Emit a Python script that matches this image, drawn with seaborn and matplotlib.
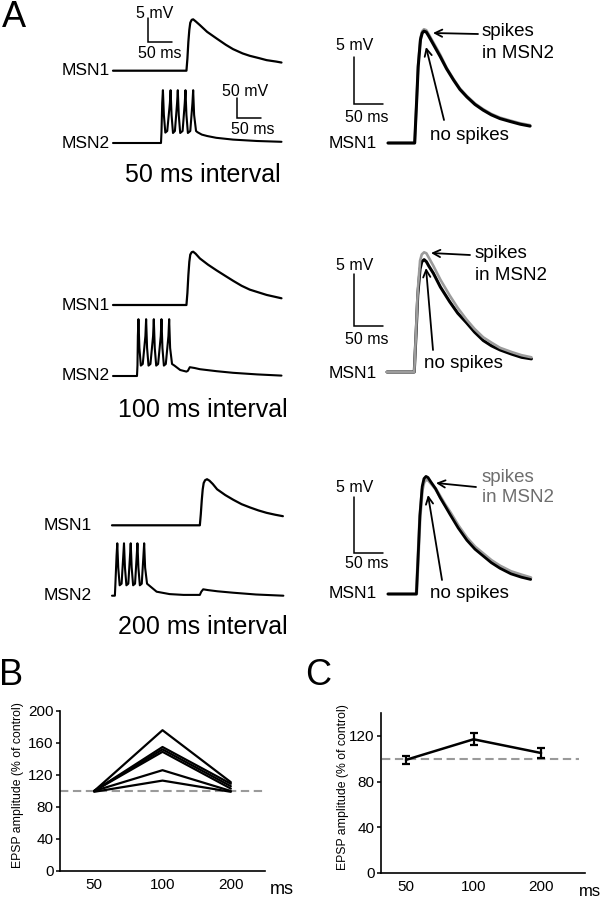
import numpy as np
import pandas as pd
import matplotlib
matplotlib.use("Agg")
import matplotlib.pyplot as plt
import seaborn as sns
from matplotlib import font_manager

# ---------------- data ----------------
# Panel A, left column: MSN1 EPSPs (ms, mV) and MSN2 spike trains (ms, mV)
A1_MSN1_T = [0, 153, 155, 157, 159, 161, 164, 167, 172, 181, 196, 216, 235, 250, 270, 285, 305, 320, 340, 351]
A1_MSN1_V = [0, 0, 2.5, 6.0, 8.5, 10.0, 10.6, 10.7, 10.3, 9.5, 8.1, 6.7, 5.4, 4.5, 3.6, 3.1, 2.6, 2.2, 1.9, 1.7]
A2_MSN1_T = [0, 153, 155, 157, 159, 161, 164, 167, 172, 181, 198, 216, 235, 251, 268, 285, 320, 351]
A2_MSN1_V = [0, 0, 2.5, 6.2, 9.0, 10.5, 11.0, 11.1, 10.7, 9.7, 8.4, 7.2, 6.0, 5.0, 4.0, 3.2, 2.1, 1.4]
A3_MSN1_T = [0, 183, 185, 187, 189, 191, 194, 198, 203, 210, 219, 236, 253, 270, 288, 305, 322, 340, 356]
A3_MSN1_V = [0, 0, 2.3, 5.2, 7.5, 8.8, 9.4, 9.6, 9.3, 8.6, 7.5, 6.3, 5.3, 4.4, 3.7, 3.1, 2.6, 2.2, 1.9]

A1_MSN2_T = [0, 100, 101, 102.5, 104, 106, 109, 113, 118.5, 120, 122, 125, 129, 133.5, 135, 137, 140, 145,
             149.5, 151, 153, 156, 161, 165.5, 167, 169, 173, 176, 185, 196, 215, 250, 300, 351]
A1_MSN2_V = [0, 0, 27, 100, 132, 70, 26, 30, 100, 132, 70, 25, 30, 100, 132, 70, 25, 30,
             100, 132, 70, 25, 30, 100, 132, 70, 30, 27, 21, 17.5, 13, 8.5, 5, 3]
A2_MSN2_T = [0, 50, 51, 51.8, 53, 55, 58, 62, 67.5, 69, 71, 74, 78, 83.5, 85, 87, 90, 94, 99.5, 101, 103, 106,
             110, 115.5, 117, 119, 123, 128, 140, 153, 156, 160, 170, 181, 216, 250, 300, 351]
A2_MSN2_V = [0, 0, 27, 100, 142, 70, 26, 30, 100, 142, 70, 26, 30, 100, 142, 70, 26, 30, 100, 142, 70, 26,
             30, 100, 142, 70, 30, 26, 15, 11, 13, 22, 20, 17, 12, 8, 4, 1]
A3_MSN2_T = [0, 6, 7, 9.5, 11, 13, 16, 20, 23.5, 25, 27, 30, 34, 37.5, 39, 41, 44, 48, 51.5, 53, 55, 58,
             62, 65.5, 67, 69, 73, 78, 93, 120, 149, 183, 186, 190, 200, 220, 252, 300, 357]
A3_MSN2_V = [0, 0, 27, 100, 131, 70, 26, 30, 100, 131, 70, 26, 30, 100, 131, 70, 26, 30, 100, 131, 70, 26,
             30, 100, 131, 70, 30, 25, 10, 4, 2, 2, 10, 16, 14, 11, 7.5, 3, 0]

# Panel A, right column: MSN1 EPSP overlays, no spikes (black) vs spikes in MSN2 (gray)
R1_T = [0, 46, 47.5, 49.5, 52, 56, 59, 62, 66, 70, 80, 90, 101, 113, 124, 136, 150, 164, 178, 193, 210, 228, 245]
R1_BLACK = [0, 0, 2.0, 4.6, 8.1, 11.0, 11.7, 11.9, 11.8, 11.4, 10.3, 9.2, 7.9, 6.7, 5.7, 4.9, 4.1, 3.5, 3.0, 2.6, 2.3, 2.0, 1.8]
R1_GRAY = [0, 0, 2.0, 4.7, 8.3, 11.2, 11.9, 12.1, 12.0, 11.6, 10.5, 9.4, 8.0, 6.8, 5.8, 5.0, 4.2, 3.6, 3.1, 2.7, 2.4, 2.1, 1.9]
R2_T = [0, 47, 48.5, 50.5, 53, 57, 60, 64, 68, 72, 80, 92, 108, 122, 137, 151, 166, 180, 195, 215, 232, 249]
R2_BLACK = [0, 0, 1.8, 4.1, 7.3, 9.8, 10.5, 10.7, 10.5, 10.1, 9.4, 8.1, 6.7, 5.6, 4.7, 3.8, 3.0, 2.5, 2.1, 1.7, 1.4, 1.25]
R2_GRAY = [0, 0, 1.9, 4.4, 7.7, 10.6, 11.2, 11.4, 11.3, 10.9, 10.1, 8.8, 7.3, 6.1, 5.0, 4.1, 3.3, 2.8, 2.3, 1.9, 1.6, 1.4]
R3_T = [0, 49, 50.5, 52.5, 55, 59, 62, 65.5, 69, 74, 82, 90, 98, 107, 121, 136, 150, 164, 178, 193, 212, 230, 246]
R3_BLACK = [0, 0, 1.7, 4.0, 7.0, 9.6, 10.3, 10.5, 10.4, 10.0, 9.4, 8.6, 7.9, 7.1, 5.9, 4.8, 4.0, 3.4, 2.8, 2.3, 1.8, 1.5, 1.3]
R3_GRAY = [0, 0, 1.6, 3.9, 6.8, 9.3, 10.0, 10.2, 10.2, 9.9, 9.4, 8.7, 8.0, 7.3, 6.1, 5.0, 4.2, 3.6, 3.0, 2.5, 2.0, 1.7, 1.45]

INTERVAL_TITLES = ["50 ms interval", "100 ms interval", "200 ms interval"]

# Panel B: EPSP amplitude (% of control) for individual pairs
INTERVALS = ["50", "100", "200"]
B_CELLS = ["c1", "c2", "c3", "c4", "c5", "c6"]
B_AT_50 = [100, 100, 100, 100, 100, 99]
B_AT_100 = [176, 155, 152, 149, 126, 113]
B_AT_200 = [111, 109, 106, 103, 100, 99]

# Panel C: mean +- SEM
C_MEAN = [99, 117, 105]
C_SEM = [3.7, 5.3, 4.4]

# ---------------- style ----------------
sns.set_style("ticks")
plt.rcParams["font.family"] = ["Liberation Sans", "DejaVu Sans"]
for key in ("text.color", "axes.labelcolor", "xtick.color", "ytick.color", "axes.edgecolor"):
    plt.rcParams[key] = "black"
names = {f.name for f in font_manager.fontManager.ttflist}
NARROW = "Liberation Sans Narrow" in names

W, H = 605, 900
fig = plt.figure(figsize=(W / 100, H / 100), dpi=100)


def ftxt(x, y, s, **kw):
    return fig.text(x / W, 1 - y / H, s, **kw)


def trace_axes(x0, y0, sx, sy, tmax, vmin, vmax):
    top = y0 - vmax * sy
    height = (vmax - vmin) * sy
    ax = fig.add_axes([x0 / W, 1 - (top + height) / H, tmax * sx / W, height / H])
    info = dict(x0=x0, y0=y0, sx=sx, sy=sy, lim=(0, tmax, vmin, vmax))
    return ax, info


def draw(ax, t, v, color="k", lw=1.6, z=2):
    sns.lineplot(x=t, y=v, ax=ax, color=color, lw=lw, estimator=None, sort=False, zorder=z)


def finish(ax, info):
    t0, t1, v0, v1 = info["lim"]
    ax.set_xlim(t0, t1)
    ax.set_ylim(v0, v1)
    ax.set_axis_off()
    for ln in ax.lines:
        ln.set_clip_on(False)


def scalebar(ax, info, cx, cy, ms, mv):
    tc = (cx - info["x0"]) / info["sx"]
    vc = (info["y0"] - cy) / info["sy"]
    ax.plot([tc, tc, tc + ms], [vc + mv, vc, vc], color="k", lw=1.1,
            solid_joinstyle="miter", clip_on=False)


def arrow(tail, head):
    fig.add_artist(matplotlib.patches.FancyArrowPatch(
        (tail[0] / W, 1 - tail[1] / H), (head[0] / W, 1 - head[1] / H),
        transform=fig.transFigure, arrowstyle="->", mutation_scale=13,
        lw=1.3, color="k", shrinkA=0, shrinkB=0))


# ---------------- Panel A left column ----------------
left_rows = [
    (A1_MSN1_T, A1_MSN1_V, 113, 70.7, A1_MSN2_T, A1_MSN2_V, 113, 143),
    (A2_MSN1_T, A2_MSN1_V, 113, 305, A2_MSN2_T, A2_MSN2_V, 113, 376),
    (A3_MSN1_T, A3_MSN1_V, 112, 525.3, A3_MSN2_T, A3_MSN2_V, 112, 595.7),
]
label_x = [110, 110, 92]
title_y = [175, 410, 627]
for i, (t1, v1, x1, y1, t2, v2, x2, y2) in enumerate(left_rows):
    ax1, inf1 = trace_axes(x1, y1, 0.48, 4.8, max(t1), -1, 12)
    draw(ax1, t1, v1, lw=1.6)
    ax2, inf2 = trace_axes(x2, y2, 0.48, 0.4, max(t2), -10, 145)
    draw(ax2, t2, v2, lw=1.5)
    if i == 0:
        scalebar(ax1, inf1, 148, 42, 50, 5)
        scalebar(ax2, inf2, 237, 118, 50, 50)
        ftxt(155, 13, "5 mV", fontsize=11.5, ha="center", va="center")
        ftxt(160, 53, "50 ms", fontsize=11.5, ha="center", va="center")
        ftxt(245, 91, "50 mV", fontsize=11.5, ha="center", va="center")
        ftxt(253, 129, "50 ms", fontsize=11.5, ha="center", va="center")
    finish(ax1, inf1)
    finish(ax2, inf2)
    ftxt(label_x[i], y1, "MSN1", fontsize=12.5, ha="right", va="center")
    ftxt(label_x[i], y2, "MSN2", fontsize=12.5, ha="right", va="center")
    ftxt(203, title_y[i], INTERVAL_TITLES[i], fontsize=18, ha="center", va="center")

# ---------------- Panel A right column ----------------
right_rows = [
    (R1_T, R1_BLACK, R1_GRAY, 388, 143, 9.4, (354, 104), 45, 117, 143,
     (482, 32, 53), (430, 136), ((478, 34), (433, 33)), ((444, 120), (426, 47)), "k"),
    (R2_T, R2_BLACK, R2_GRAY, 387, 372, 10.5, (354, 326), 265, 340, 374,
     (475, 253, 275), (424, 363), ((470, 255), (431, 253)), ((433, 350), (426, 268)), "k"),
    (R3_T, R3_BLACK, R3_GRAY, 388, 594, 11.2, (354, 553), 487, 563, 594,
     (482, 477, 498), (430, 594), ((476, 487), (436, 483)), ((442, 580), (428, 495)), "#6e6e6e"),
]
for i, (t, vb, vg, x0, y0, sy, corner, ymv, yms, ylab, sp, ns, a1, a2, spcol) in enumerate(right_rows):
    ax, inf = trace_axes(x0, y0, 0.58, sy, max(t), -1, 13)
    if i == 2:
        draw(ax, t, vg, color="#9c9c9c", lw=2.4, z=2)
        draw(ax, t, vb, color="k", lw=2.0, z=3)
    else:
        draw(ax, t, vb, color="k", lw=2.2, z=2)
        draw(ax, t, vg, color="#9c9c9c", lw=1.9, z=3 if i == 1 else 1)
    scalebar(ax, inf, corner[0], corner[1], 50, 5)
    finish(ax, inf)
    ftxt(355, ymv, "5 mV", fontsize=11.5, ha="center", va="center")
    ftxt(367, yms, "50 ms", fontsize=11.5, ha="center", va="center")
    ftxt(377, ylab, "MSN1", fontsize=12.5, ha="right", va="center")
    ftxt(sp[0], sp[1], "spikes", fontsize=13.5, ha="left", va="center", color=spcol)
    ftxt(sp[0], sp[2], "in MSN2", fontsize=13.5, ha="left", va="center", color=spcol)
    ftxt(ns[0], ns[1], "no spikes", fontsize=13.5, ha="left", va="center")
    arrow(*a1)
    arrow(*a2)

# ---------------- Panel B ----------------
pos = {lab: k for k, lab in enumerate(INTERVALS)}
rows = []
for c, a, b, d in zip(B_CELLS, B_AT_50, B_AT_100, B_AT_200):
    for lab, val in zip(INTERVALS, (a, b, d)):
        rows.append(dict(cell=c, interval=lab, pos=pos[lab], amp=val))
dfB = pd.DataFrame(rows)

ylab_font = dict(family=["Liberation Sans Narrow", "Liberation Sans"], fontsize=10.5) if NARROW \
    else dict(family=["Liberation Sans", "DejaVu Sans"], fontsize=8.8)

axB = fig.add_axes([60 / W, 1 - 871 / H, 205 / W, 160 / H])
axB.axhline(100, color="#9a9a9a", lw=1.5, ls=(0, (4, 2.2)), zorder=1)
sns.lineplot(data=dfB, x="pos", y="amp", units="cell", estimator=None, sort=False,
             color="k", lw=1.6, ax=axB, zorder=3)
axB.set_xlim(-0.5, 2.5)
axB.set_ylim(0, 200)
axB.set_yticks([0, 40, 80, 120, 160, 200])
axB.set_xticks(range(len(INTERVALS)))
axB.set_xticklabels(INTERVALS)

# ---------------- Panel C ----------------
axC = fig.add_axes([381 / W, 1 - 873 / H, 204 / W, 160 / H])
axC.axhline(100, xmin=0.005, xmax=0.97, color="#9a9a9a", lw=1.5, ls=(0, (4, 2.2)), zorder=1)
cpos = [pos[l] for l in INTERVALS]
sns.lineplot(x=cpos, y=C_MEAN, color="k", lw=1.8, ax=axC, zorder=3)
axC.errorbar(cpos, C_MEAN, yerr=C_SEM, fmt="none", ecolor="k", elinewidth=1.6,
             capsize=3, capthick=1.6, zorder=4)
axC.set_xlim(-0.37, 2.65)
axC.set_ylim(0, 140)
axC.set_yticks([0, 40, 80, 120])
axC.set_xticks(range(len(INTERVALS)))
axC.set_xticklabels(INTERVALS)

for ax in (axB, axC):
    sns.despine(ax=ax)
    for s in ("left", "bottom"):
        ax.spines[s].set_linewidth(1.2)
    ax.tick_params(axis="y", length=3, width=1.1, pad=1.5, labelsize=11)
    ax.tick_params(axis="x", length=0, pad=5, labelsize=11)
    ax.set_xlabel("")
    ax.set_ylabel("EPSP amplitude (% of control)", **ylab_font)
    ax.grid(False)
axB.yaxis.set_label_coords(-0.176, 0.54)
axC.yaxis.set_label_coords(-0.155, 0.54)

ftxt(270, 890, "ms", fontsize=13, ha="left", va="center")
ftxt(579, 892, "ms", fontsize=12, ha="left", va="center")

# panel letters
ftxt(2, 27, "A", fontsize=26, ha="left", va="baseline")
ftxt(-1, 685, "B", fontsize=26, ha="left", va="baseline")
ftxt(305, 685, "C", fontsize=26, ha="left", va="baseline")

fig.savefig("out.png", dpi=100)
